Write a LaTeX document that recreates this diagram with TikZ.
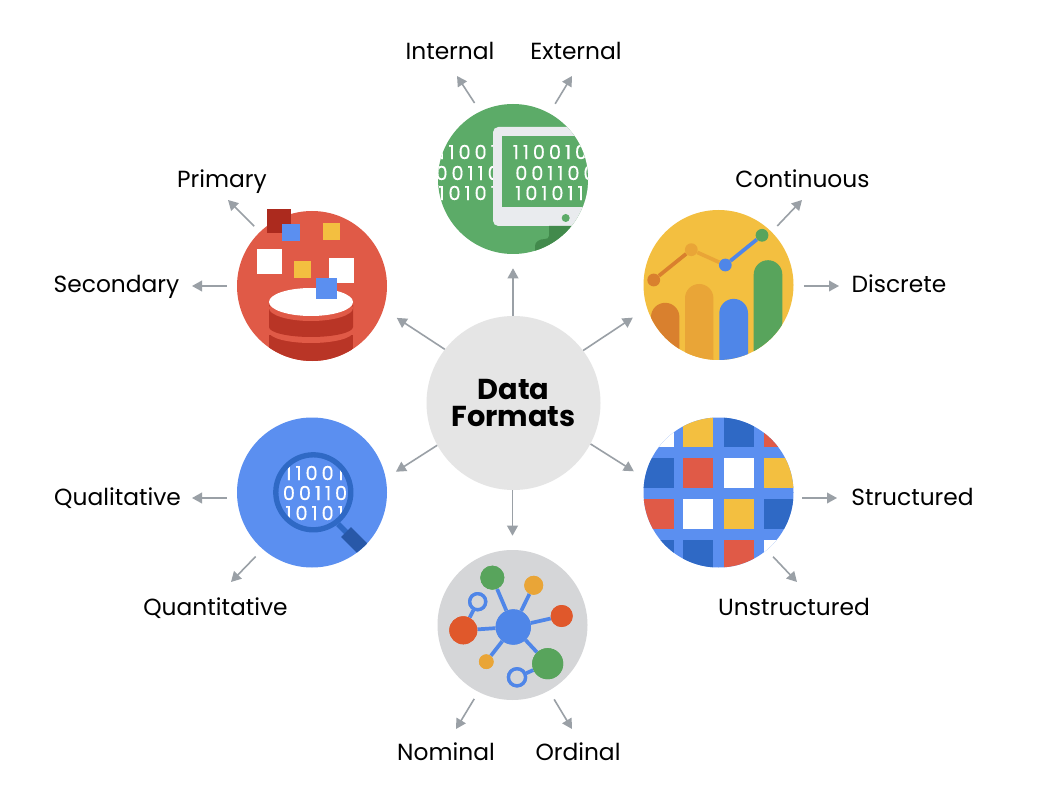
\documentclass[tikz,border=0pt]{standalone}
\usepackage{fontspec}
\setmainfont{Poppins}
\newfontfamily\digfont[LetterSpace=20,FakeBold=0.3]{Poppins}
\usetikzlibrary{arrows.meta}
\definecolor{cRed}{HTML}{E05A47}
\definecolor{cRedD}{HTML}{B93526}
\definecolor{cRedS}{HTML}{AC2A1E}
\definecolor{cBlue}{HTML}{5B8FF0}
\definecolor{cBlueM}{HTML}{4F86E8}
\definecolor{cBlueD}{HTML}{2F69C5}
\definecolor{cBlueH}{HTML}{2858A8}
\definecolor{cYel}{HTML}{F3BF40}
\definecolor{cOrg}{HTML}{E9A537}
\definecolor{cOrgD}{HTML}{D9802E}
\definecolor{cGrn}{HTML}{5CAB68}
\definecolor{cGrnB}{HTML}{58A45C}
\definecolor{cGrnD}{HTML}{428A4C}
\definecolor{cMon}{HTML}{E9EBEE}
\definecolor{cGray}{HTML}{D5D6D8}
\definecolor{cHub}{HTML}{E5E5E5}
\definecolor{cArr}{HTML}{9AA0A6}
\definecolor{cRedN}{HTML}{E0582B}
\tikzset{
  disc/.style={circle,inner sep=0pt,minimum size=112.5pt,draw=none},
  lab/.style={anchor=base,inner sep=0pt,font=\fontsize{17.5pt}{20pt}\selectfont,text=black},
  arr/.style={draw=cArr,line width=1.2pt,-{Triangle[length=7.5pt,width=8pt]}},
  dig/.style={inner sep=0pt,text=white,font=\fontsize{14.5pt}{15pt}\digfont},
  netedge/.style={draw=cBlueM,line width=2.8pt},
  netdot/.style={circle,inner sep=0pt,draw=none},
  netring/.style={circle,inner sep=0pt,draw=cBlueM,line width=2.5pt,fill=cGray}
}
\begin{document}
\begin{tikzpicture}[x=0.75pt,y=-0.75pt]
\useasboundingbox (0,0) rectangle (1038,798);
\fill[white] (0,0) rectangle (1038,798);

% main discs
\node[disc,fill=cGrn]  (green) at (513,179) {};
\node[disc,fill=cRed]  (red)   at (312,286) {};
\node[disc,fill=cYel]  (yellow) at (718.5,285) {};
\node[disc,fill=cBlue] (blue)  at (312,492.5) {};
\node[disc,fill=cBlue] (grid)  at (718.5,492.5) {};
\node[disc,fill=cGray] (gray)  at (512.5,625) {};
\node[circle,inner sep=0pt,minimum size=130.5pt,fill=cHub,align=center,font=\fontsize{21.6pt}{20.5pt}\selectfont\bfseries] (hub) at (513.5,403) {Data\\Formats};

% green: binary + monitor
\begin{scope}
\clip (green.center) circle (75);
\node[dig,anchor=east] (g1) at (497,152) {11001};
\node[dig,anchor=east] (g2) at (500,173) {00110};
\node[dig,anchor=east] (g3) at (497,193) {10101};
\fill[cMon,rounded corners=4pt] (493,127) rectangle (610,226);
\fill[cGrn] (502,136) rectangle (610,207);
\fill[cGrn] (565.7,218) circle (4);
\fill[cGrnD] (549,226) -- (549,236) .. controls (549,238) and (547,239) .. (545,239) .. controls (539,239) and (535,242) .. (535,246) -- (535,260) -- (600,260) -- (600,226) -- cycle;
\node[dig,anchor=west] (g4) at (512.5,152) {110010};
\node[dig,anchor=west] (g5) at (515,173) {001100};
\node[dig,anchor=west] (g6) at (515,193) {101011};
\end{scope}

% red: squares + database
\begin{scope}
\clip (red.center) circle (75);
\fill[cRedD] (269,335) rectangle (353,375);
\fill[cRed] (269,300) -- (269,332) arc[start angle=180,end angle=0,x radius=42,y radius=11] -- (353,300) -- cycle;
\fill[cRedD] (269,305) -- (269,327) arc[start angle=180,end angle=0,x radius=42,y radius=10] -- (353,305) -- cycle;
\fill[cRed] (311,308) ellipse (42 and 13);
\end{scope}
\fill[white] (311,302) ellipse (42 and 14);
\fill[cRedS] (267,209) rectangle (291,233);
\fill[cBlue] (282,224) rectangle (300,241);
\fill[cYel] (323,223) rectangle (340,240);
\fill[white] (257,249) rectangle (282,274);
\fill[cYel] (293.5,261) rectangle (311,278);
\fill[white] (329,258) rectangle (354,283);
\fill[cBlue] (316,278) rectangle (337,299);

% yellow: chart
\begin{scope}
\clip (yellow.center) circle (75);
\fill[cOrgD] (651,380) -- (651,317) arc[start angle=180,end angle=0,x radius=14.2,y radius=-14.2] -- (679.4,380) -- cycle;
\fill[cOrg] (685,380) -- (685,298.2) arc[start angle=180,end angle=0,x radius=14.2,y radius=-14.2] -- (713.4,380) -- cycle;
\fill[cBlueM] (719.3,380) -- (719.3,313.2) arc[start angle=180,end angle=0,x radius=14.35,y radius=-14.35] -- (748,380) -- cycle;
\fill[cGrnB] (753.7,380) -- (753.7,274.5) arc[start angle=180,end angle=0,x radius=14.3,y radius=-14.3] -- (782.3,380) -- cycle;
\end{scope}
\node[netdot,fill=cOrgD,minimum size=9.6pt] (p1) at (653.7,280) {};
\node[netdot,fill=cOrg,minimum size=9.6pt] (p2) at (691.3,249.7) {};
\node[netdot,fill=cBlueM,minimum size=9.6pt] (p3) at (725.3,265) {};
\node[netdot,fill=cGrnB,minimum size=9.6pt] (p4) at (762,235.3) {};
\draw[cOrgD,line width=2.8pt] (p1) -- (p2);
\draw[cOrg,line width=2.8pt] (p2) -- (p3);
\draw[cBlueM,line width=2.8pt] (p3) -- (p4);

% blue: magnifier
\draw[cBlueD,line width=4pt] (338,524) -- (348,534);
\begin{scope}
\clip (blue.center) circle (75);
\draw[cBlueH,line width=10.5pt] (346,532) -- (364,550);
\end{scope}
\begin{scope}
\clip (313.3,492.3) circle (35);
\node[dig,anchor=east] (b1) at (344,473) {11001};
\node[dig] (b2) at (315,493) {00110};
\node[dig,anchor=east] (b3) at (344,513) {10101};
\end{scope}
\draw[cBlueD,line width=4pt] (313.3,492.3) circle (37.5);

% grid
\begin{scope}
\clip (grid.center) circle (75);
\fill[white] (643,417) rectangle (674,447.3);
\fill[cYel] (683,417) rectangle (713,447.3);
\fill[cBlueD] (724,417) rectangle (754,447.3);
\fill[cRed] (764,417) rectangle (794,447.3);
\fill[cBlueD] (643,458.3) rectangle (674,488.3);
\fill[cRed] (683,458.3) rectangle (713,488.3);
\fill[white] (724,458.3) rectangle (754,488.3);
\fill[cYel] (764,458.3) rectangle (794,488.3);
\fill[cRed] (643,499) rectangle (674,529.3);
\fill[white] (683,499) rectangle (713,529.3);
\fill[cYel] (724,499) rectangle (754,529.3);
\fill[cBlueD] (764,499) rectangle (794,529.3);
\fill[cBlueD] (643,540.3) rectangle (674,570);
\fill[cBlueD] (683,540.3) rectangle (713,570);
\fill[cRed] (724,540.3) rectangle (754,570);
\fill[white] (764,540.3) rectangle (794,570);
\end{scope}

% gray: network
\node[netdot,fill=cBlueM,minimum size=26.5pt] (nc) at (513.3,627) {};
\node[netdot,fill=cGrnB,minimum size=18pt] (n1) at (492.3,577.7) {};
\node[netdot,fill=cOrg,minimum size=14.2pt] (n2) at (533.7,585.3) {};
\node[netdot,fill=cRedN,minimum size=16.5pt] (n3) at (561.7,616) {};
\node[netdot,fill=cRedN,minimum size=21pt] (n4) at (463.3,630.3) {};
\node[netdot,fill=cOrg,minimum size=11pt] (n5) at (486.3,661.7) {};
\node[netdot,fill=cGrnB,minimum size=23.3pt] (n6) at (547.7,663.7) {};
\node[netring,minimum size=12pt] (r1) at (477.7,601.7) {};
\node[netring,minimum size=12.8pt] (r2) at (517,677.3) {};
\draw[netedge] (nc) -- (n1);
\draw[netedge] (nc) -- (n2);
\draw[netedge] (nc) -- (n3);
\draw[netedge] (nc) -- (n4);
\draw[netedge] (nc) -- (n5);
\draw[netedge] (nc) -- (n6);
\draw[netedge] (n4) -- (r1);
\draw[netedge] (n6) -- (r2);
\node[netdot,fill=cBlueM,minimum size=26.5pt] at (nc) {};
\node[netdot,fill=cGrnB,minimum size=18pt] at (n1) {};
\node[netdot,fill=cOrg,minimum size=14.2pt] at (n2) {};
\node[netdot,fill=cRedN,minimum size=16.5pt] at (n3) {};
\node[netdot,fill=cRedN,minimum size=21pt] at (n4) {};
\node[netdot,fill=cOrg,minimum size=11pt] at (n5) {};
\node[netdot,fill=cGrnB,minimum size=23.3pt] at (n6) {};
\node[netring,minimum size=12pt] at (r1) {};
\node[netring,minimum size=12.8pt] at (r2) {};

% labels
\node[lab] (tInternal) at (450,60) {Internal};
\node[lab] (tExternal) at (576,60) {External};
\node[lab] (tPrimary) at (222,188) {Primary};
\node[lab] (tSecondary) at (116.5,293) {Secondary};
\node[lab] (tContinuous) at (802.5,188) {Continuous};
\node[lab] (tDiscrete) at (899,293) {Discrete};
\node[lab] (tQualitative) at (117.5,505) {Qualitative};
\node[lab] (tQuantitative) at (215.5,615) {Quantitative};
\node[lab] (tStructured) at (912.5,505) {Structured};
\node[lab] (tUnstructured) at (794,615) {Unstructured};
\node[lab] (tNominal) at (446,760) {Nominal};
\node[lab] (tOrdinal) at (578,760) {Ordinal};

% arrow tips beside the labels
\coordinate (eInternal) at (457,76);
\coordinate (eExternal) at (572,76);
\coordinate (ePrimary) at (228,200);
\coordinate (eSecondary) at (192,286);
\coordinate (eContinuous) at (802,200);
\coordinate (eDiscrete) at (839,286);
\coordinate (eQualitative) at (192,498);
\coordinate (eQuantitative) at (231,582);
\coordinate (eStructured) at (837,498);
\coordinate (eUnstructured) at (797,582);
\coordinate (eNominal) at (456,729);
\coordinate (eOrdinal) at (572,729);

% hub to discs
\draw[arr,shorten >=10.5pt] (hub.north -| green.south) -- (green.south);
\draw[arr,shorten >=11.8pt] (hub.142.5) -- (red.-18.3);
\draw[arr,shorten >=12.7pt] (hub.37.5) -- (yellow.198.4);
\draw[arr,shorten >=8.9pt] (hub.209.6) -- (blue.11);
\draw[arr,shorten >=9.6pt] (hub.-28.9) -- (grid.169.4);
\draw[arr,shorten >=10.5pt] (hub.south -| gray.north) -- (gray.north);

% discs to labels
\draw[arr,shorten <=7.5pt] (green.116.3) -- (eInternal);
\draw[arr,shorten <=8.2pt] (green.61.9) -- (eExternal);
\draw[arr,shorten <=6pt] (red.134) -- (ePrimary);
\draw[arr,shorten <=7.5pt] (red.west |- eSecondary) -- (eSecondary);
\draw[arr,shorten <=6pt] (yellow.45) -- (eContinuous);
\draw[arr,shorten <=7.5pt] (yellow.east |- eDiscrete) -- (eDiscrete);
\draw[arr,shorten <=7.5pt] (blue.west |- eQualitative) -- (eQualitative);
\draw[arr,shorten <=7.5pt] (blue.229) -- (eQuantitative);
\draw[arr,shorten <=6.5pt] (grid.east |- eStructured) -- (eStructured);
\draw[arr,shorten <=6.8pt] (grid.-50.3) -- (eUnstructured);
\draw[arr,shorten <=6pt] (gray.243.4) -- (eNominal);
\draw[arr,shorten <=7.5pt] (gray.-61) -- (eOrdinal);
\end{tikzpicture}
\end{document}
